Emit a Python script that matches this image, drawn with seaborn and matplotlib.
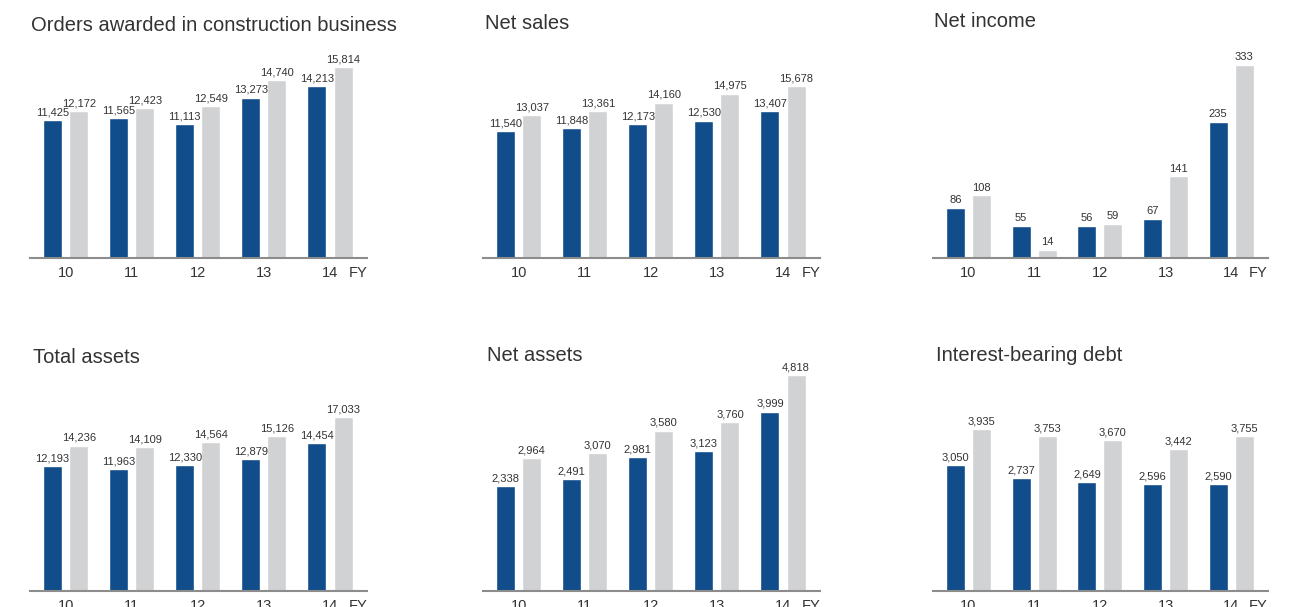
import matplotlib
matplotlib.use("Agg")
import matplotlib.pyplot as plt
import seaborn as sns
import pandas as pd
from matplotlib import font_manager

sns.set_theme(style="white")
plt.rcParams['font.family'] = ['Liberation Sans', 'DejaVu Sans']

years = ["10", "11", "12", "13", "14"]
series_names = ["blue", "gray"]

titles = ["Orders awarded in construction business", "Net sales", "Net income",
          "Total assets", "Net assets", "Interest-bearing debt"]

orders_blue = [11425, 11565, 11113, 13273, 14213]
orders_gray = [12172, 12423, 12549, 14740, 15814]
sales_blue = [11540, 11848, 12173, 12530, 13407]
sales_gray = [13037, 13361, 14160, 14975, 15678]
income_blue = [86, 55, 56, 67, 235]
income_gray = [108, 14, 59, 141, 333]
assets_blue = [12193, 11963, 12330, 12879, 14454]
assets_gray = [14236, 14109, 14564, 15126, 17033]
netassets_blue = [2338, 2491, 2981, 3123, 3999]
netassets_gray = [2964, 3070, 3580, 3760, 4818]
debt_blue = [3050, 2737, 2649, 2596, 2590]
debt_gray = [3935, 3753, 3670, 3442, 3755]

panels = [(orders_blue, orders_gray), (sales_blue, sales_gray), (income_blue, income_gray),
          (assets_blue, assets_gray), (netassets_blue, netassets_gray), (debt_blue, debt_gray)]

BLUE = "#104d8a"
GRAY = "#d1d2d4"
TEXT = "#333333"
AXIS = "#8c8c8c"

avail = {f.name for f in font_manager.fontManager.ttflist}
narrow = 'Liberation Sans Narrow' if 'Liberation Sans Narrow' in avail else 'Liberation Sans'
label_size = 9 if narrow == 'Liberation Sans Narrow' else 8

W, H = 1300, 607
fig = plt.figure(figsize=(W / 100, H / 100), dpi=100)

# layout in pixels
lefts = [30, 483, 933, 30, 483, 933]
widths = [337, 337, 335, 337, 337, 335]
baselines = [258, 258, 258, 591, 591, 591]
tops = [40, 40, 40, 370, 370, 370]
bar_px = [191, 172, 193, 174, 216, 162]
title_pos = [(31, 31), (485, 29), (934, 27), (33, 363), (487, 361), (936, 361)]

for i, (blue, gray) in enumerate(panels):
    x0, w, base, top = lefts[i], widths[i], baselines[i], tops[i]
    ax = fig.add_axes([x0 / W, (H - base) / H, w / W, (base - top) / H])
    df = pd.DataFrame({
        "FY": years * 2,
        "value": blue + gray,
        "series": [series_names[0]] * 5 + [series_names[1]] * 5,
    })
    sns.barplot(data=df, x="FY", y="value", hue="series", palette=[BLUE, GRAY],
                width=0.79, gap=0.27, legend=False, ax=ax, saturation=1,
                errorbar=None)
    vmax = max(max(blue), max(gray))
    ax.set_ylim(0, vmax * (base - top) / bar_px[i])
    ax.set_xlim(-0.54, 4.56)
    for c in ax.containers:
        ax.bar_label(c, labels=[f"{int(v):,}" for v in c.datavalues], padding=2,
                     fontsize=label_size, family=narrow, color=TEXT)
    for s in ["top", "left", "right"]:
        ax.spines[s].set_visible(False)
    ax.spines["bottom"].set_color(AXIS)
    ax.spines["bottom"].set_linewidth(1.5)
    ax.set_yticks([])
    ax.set_xlabel("")
    ax.set_ylabel("")
    ax.tick_params(axis="x", length=0, pad=6, labelsize=10.5, labelcolor=TEXT)
    ax.text(4.56, -0.035, "FY", transform=ax.get_xaxis_transform(), ha="right",
            va="top", fontsize=10.5, color=TEXT)
    tx, ty = title_pos[i]
    fig.text(tx / W, (H - ty) / H, titles[i], fontsize=14.5, color=TEXT,
             ha="left", va="baseline")

fig.savefig("out.png", dpi=100, facecolor="white")
